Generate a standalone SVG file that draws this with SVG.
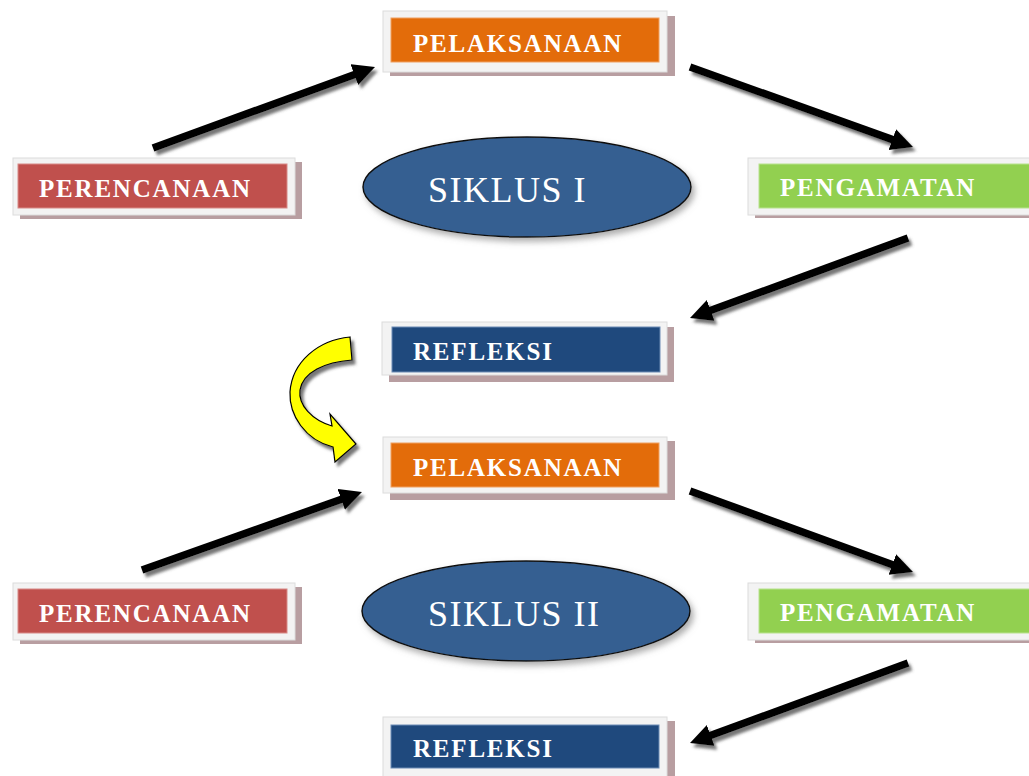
<svg xmlns="http://www.w3.org/2000/svg" width="1029" height="776" viewBox="0 0 1029 776">
<style>
.frame{fill:#f3f3f3;stroke:#dcdcdc;stroke-width:1}
.shadow{fill:#b89ea1}
.lbl{font-family:"Liberation Serif","Times New Roman",serif;font-weight:bold;font-size:25px;fill:#ffffff;letter-spacing:1.8px}
.orange{fill:#e36c0a;stroke:#f0a060;stroke-width:1}
.red{fill:#c0504d;stroke:#d88a88;stroke-width:1}
.green{fill:#92d050;stroke:#b8e28e;stroke-width:1}
.navy{fill:#1f497d;stroke:#6d8cb5;stroke-width:1}
.ell{fill:#365f91;stroke:#111;stroke-width:1.5}
.elbl{font-family:"Liberation Serif","Times New Roman",serif;font-size:36px;fill:#ffffff;letter-spacing:1.5px}
.conn{stroke:#000;stroke-width:7.5;fill:none;marker-end:url(#ah)}
</style>
<defs>
<marker id="ah" markerUnits="userSpaceOnUse" markerWidth="24" markerHeight="24" refX="4" refY="11" orient="auto">
<path d="M0,0 L22,11 L0,22 Z" fill="#000"/>
</marker>
<filter id="ds" x="-10%" y="-30%" width="130%" height="170%">
<feDropShadow dx="3" dy="4" stdDeviation="1.5" flood-color="#555" flood-opacity="0.8"/>
</filter>
<filter id="es" x="-10%" y="-20%" width="130%" height="150%">
<feDropShadow dx="3" dy="4" stdDeviation="3" flood-color="#777" flood-opacity="0.6"/>
</filter>
</defs>
<rect width="1029" height="776" fill="#ffffff"/>

<g id="connectors" filter="url(#ds)">
<line class="conn" x1="153" y1="148" x2="358.1" y2="73.2"/>
<line class="conn" x1="690" y1="67" x2="896.1" y2="140.9"/>
<line class="conn" x1="908" y1="238" x2="706.9" y2="311.8"/>
<line class="conn" x1="142" y1="570" x2="345" y2="498"/>
<line class="conn" x1="690" y1="491" x2="896.1" y2="565.9"/>
<line class="conn" x1="908" y1="663" x2="706.9" y2="736.8"/>
<path d="M350,337 C318,340 292,362 290,392 C289,415 305,440 333,447 L335,462 L356,444 L330,414 L332,426 C312,420 298,405 300,390 C303,372 325,362 352,360 Z" fill="#ffff00" stroke="#000" stroke-width="1.2"/>
</g>

<g id="pelaksanaan1">
<rect class="shadow" x="390" y="16" width="285" height="60"/>
<rect class="frame" x="383" y="11" width="284" height="61"/>
<rect class="orange" x="391" y="18" width="268" height="44"/>
<text class="lbl" x="413" y="52">PELAKSANAAN</text>
</g>
<g id="perencanaan1">
<rect class="shadow" x="20" y="162" width="282" height="57"/>
<rect class="frame" x="13" y="158" width="282" height="57"/>
<rect class="red" x="18" y="164" width="269" height="44"/>
<text class="lbl" x="39" y="197">PERENCANAAN</text>
</g>
<g id="pengamatan1">
<rect class="shadow" x="755" y="162" width="280" height="56"/>
<rect class="frame" x="748" y="158" width="290" height="57"/>
<rect class="green" x="759" y="164" width="280" height="44"/>
<text class="lbl" x="780" y="196">PENGAMATAN</text>
</g>
<g id="refleksi1">
<rect class="shadow" x="389" y="327" width="285" height="55"/>
<rect class="frame" x="382" y="322" width="285" height="53"/>
<rect class="navy" x="392" y="327" width="268" height="45"/>
<text class="lbl" x="413" y="360">REFLEKSI</text>
</g>
<g id="siklus1">
<ellipse class="ell" cx="527" cy="187" rx="164" ry="50" filter="url(#es)"/>
<text class="elbl" x="428" y="202">SIKLUS I</text>
</g>

<g id="pelaksanaan2">
<rect class="shadow" x="390" y="441" width="285" height="59"/>
<rect class="frame" x="383" y="437" width="284" height="56"/>
<rect class="orange" x="391" y="443" width="268" height="44"/>
<text class="lbl" x="413" y="476">PELAKSANAAN</text>
</g>
<g id="perencanaan2">
<rect class="shadow" x="20" y="587" width="282" height="57"/>
<rect class="frame" x="13" y="583" width="282" height="57"/>
<rect class="red" x="18" y="589" width="269" height="44"/>
<text class="lbl" x="39" y="622">PERENCANAAN</text>
</g>
<g id="pengamatan2">
<rect class="shadow" x="755" y="587" width="280" height="56"/>
<rect class="frame" x="748" y="583" width="290" height="57"/>
<rect class="green" x="759" y="589" width="280" height="44"/>
<text class="lbl" x="780" y="621">PENGAMATAN</text>
</g>
<g id="refleksi2">
<rect class="shadow" x="390" y="721" width="285" height="70"/>
<rect class="frame" x="383" y="717" width="284" height="70"/>
<rect class="navy" x="391" y="725" width="268" height="43"/>
<text class="lbl" x="413" y="757">REFLEKSI</text>
</g>
<g id="siklus2">
<ellipse class="ell" cx="526" cy="611" rx="164" ry="50" filter="url(#es)"/>
<text class="elbl" x="428" y="626">SIKLUS II</text>
</g>
</svg>
